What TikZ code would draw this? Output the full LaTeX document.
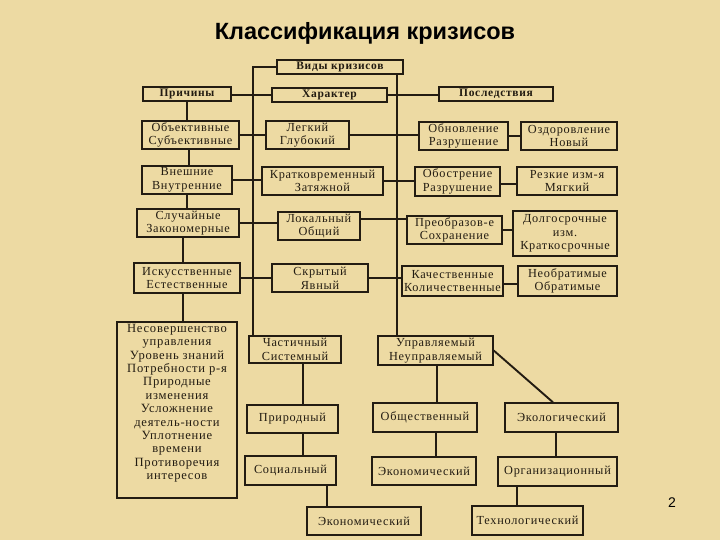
\documentclass[tikz,border=0pt]{standalone}
\usepackage{fontspec}
\setmainfont{Liberation Serif}
\newfontfamily\titlefont{Liberation Sans}
\newfontfamily\boxfont[LetterSpace=6]{Liberation Serif}
\definecolor{parch}{RGB}{237,218,163}
\definecolor{ink}{RGB}{35,28,18}
\begin{document}
\begin{tikzpicture}[x=1pt,y=-1pt,
  bx/.style={draw=ink,line width=1.4pt,inner sep=0pt,align=center,
    font=\boxfont\fontsize{12.3}{13.6}\selectfont,text=ink},
  hb/.style={bx,font=\boxfont\bfseries\fontsize{11.5}{12}\selectfont},
  cn/.style={draw=ink,line width=1.9pt},
  tk/.style={draw=ink,line width=2.8pt},
  lg/.style={draw=ink,line width=2.2pt}]
\fill[parch] (0,0) rectangle (720,540);
\useasboundingbox (0,0) rectangle (720,540);
\node[font=\titlefont\bfseries\fontsize{23.5}{25}\selectfont] (title) at (365,33) {Классификация кризисов};
% header row
\node[hb,minimum width=126pt,minimum height=14pt] (vidy) at (340,67) {Виды кризисов};
\node[hb,minimum width=88pt,minimum height=14pt] (prich) at (187,94) {Причины};
\node[hb,minimum width=115pt,minimum height=14pt] (harak) at (329.5,95) {Характер};
\node[hb,minimum width=114pt,minimum height=14pt] (posl) at (496,94) {Последствия};
% row 2
\node[bx,minimum width=97pt,minimum height=28pt] (obj) at (190.5,135) {Объективные\\Субъективные};
\node[bx,minimum width=83pt,minimum height=28pt] (legk) at (307.5,135) {Легкий\\Глубокий};
\node[bx,minimum width=89pt,minimum height=28pt] (obnov) at (463.5,136) {Обновление\\Разрушение};
\node[bx,minimum width=96pt,minimum height=28pt] (ozdor) at (569,136) {Оздоровление\\Новый};
% row 3
\node[bx,minimum width=90pt,minimum height=28pt] (vnesh) at (187,180) {Внешние\\Внутренние};
\node[bx,minimum width=121pt,minimum height=28pt] (krat) at (322.5,181) {Кратковременный\\Затяжной};
\node[bx,minimum width=85pt,minimum height=29pt] (obostr) at (457.5,181.5) {Обострение\\Разрушение};
\node[bx,minimum width=100pt,minimum height=28pt] (rezk) at (567,181) {Резкие изм-я\\Мягкий};
% row 4
\node[bx,minimum width=102pt,minimum height=28pt] (sluch) at (188,223) {Случайные\\Закономерные};
\node[bx,minimum width=82pt,minimum height=28pt] (lokal) at (319,226) {Локальный\\Общий};
\node[bx,minimum width=95pt,minimum height=28pt] (preobr) at (454.5,230) {Преобразов-е\\Сохранение};
\node[bx,minimum width=104pt,minimum height=45pt] (dolg) at (565,233.5) {Долгосрочные\\изм.\\Краткосрочные};
% row 5
\node[bx,minimum width=106pt,minimum height=30pt] (iskus) at (187,278) {Искусственные\\Естественные};
\node[bx,minimum width=96pt,minimum height=28pt] (skryt) at (320,278) {Скрытый\\Явный};
\node[bx,minimum width=101pt,minimum height=30pt] (kach) at (452.5,281) {Качественные\\Количественные};
\node[bx,minimum width=99pt,minimum height=30pt] (neobr) at (567.5,281) {Необратимые\\Обратимые};
% lower part
\node[bx,font=\boxfont\fontsize{12.6}{13.4}\selectfont,minimum width=120pt,minimum height=176pt] (big) at (177,410)
  {Несовершенство\\управления\\Уровень знаний\\Потребности р-я\\Природные\\изменения\\Усложнение\\деятель-ности\\Уплотнение\\времени\\Противоречия\\интересов\\[3pt]};
\node[bx,minimum width=92pt,minimum height=27pt] (chast) at (295,349.5) {Частичный\\Системный};
\node[bx,minimum width=115pt,minimum height=29pt] (uprav) at (435.5,350.5) {Управляемый\\Неуправляемый};
\node[bx,minimum width=91pt,minimum height=28pt] (prirod) at (292.5,419) {Природный};
\node[bx,minimum width=104pt,minimum height=29pt] (obshch) at (425,417.5) {Общественный};
\node[bx,minimum width=113pt,minimum height=29pt] (ekolog) at (561.5,417.5) {Экологический};
\node[bx,minimum width=91pt,minimum height=29pt] (social) at (290.5,470.5) {Социальный};
\node[bx,minimum width=104pt,minimum height=28pt] (ekon2) at (424,471) {Экономический};
\node[bx,minimum width=119pt,minimum height=29pt] (organ) at (557.5,471.5) {Организационный};
\node[bx,minimum width=114pt,minimum height=28pt] (ekon3) at (364,521) {Экономический};
\node[bx,minimum width=111pt,minimum height=29pt] (tehn) at (527.5,520.5) {Технологический};
\node[font=\titlefont\fontsize{14}{16}\selectfont] (pnum) at (672,503) {2};
% long verticals
\coordinate (L1) at (253,67);
\draw[lg] (vidy.west) -- (L1) -- (L1 |- chast.north);
\draw[lg] ([xshift=57pt]vidy.south) -- ([xshift=57pt]vidy.south |- uprav.north);
% header connectors
\draw[cn] (prich.east) -- (harak.west -| prich.east) -- (harak.west);
\draw[cn] (harak.east) -- (posl.west |- harak.east);
% left column chain
\draw[cn] (prich.south) -- (prich.south |- obj.north);
\draw[cn] ([xshift=-1.5pt]obj.south) -- ([xshift=-1.5pt]obj.south |- vnesh.north);
\draw[cn] (vnesh.south) -- (vnesh.south |- sluch.north);
\draw[cn] ([xshift=-5pt]sluch.south) -- ([xshift=-5pt]sluch.south |- iskus.north);
\draw[cn] ([xshift=-4pt]iskus.south) -- ([xshift=-4pt]iskus.south |- big.north);
% rows
\draw[cn] (obj.east) -- (legk.west);
\draw[cn] (legk.east) -- (obnov.west |- legk.east);
\draw[cn] (obnov.east) -- (ozdor.west);
\draw[cn] (vnesh.east) -- (krat.west |- vnesh.east);
\draw[cn] (krat.east) -- (obostr.west |- krat.east);
\draw[tk] ([yshift=-2.5pt]obostr.east) -- ([yshift=-2.5pt]obostr.east -| rezk.west);
\draw[tk] (sluch.east) -- (lokal.west |- sluch.east);
\draw[cn] ([yshift=7pt]lokal.east) -- ([yshift=7pt]lokal.east -| preobr.west);
\draw[tk] (preobr.east) -- (preobr.east -| dolg.west);
\draw[cn] (iskus.east) -- (skryt.west |- iskus.east);
\draw[cn] (skryt.east) -- (kach.west |- skryt.east);
\draw[cn] ([yshift=-3pt]kach.east) -- ([yshift=-3pt]kach.east -| neobr.west);
% lower connectors
\draw[cn] ([xshift=8pt]chast.south) -- ([xshift=8pt]chast.south |- prirod.north);
\draw[cn] ([xshift=10.5pt]prirod.south) -- ([xshift=10.5pt]prirod.south |- social.north);
\draw[cn] ([xshift=36.5pt]social.south) -- ([xshift=36.5pt]social.south |- ekon3.north);
\draw[cn] ([xshift=1.5pt]uprav.south) -- ([xshift=1.5pt]uprav.south |- obshch.north);
\draw[cn] ([xshift=11pt]obshch.south) -- ([xshift=11pt]obshch.south |- ekon2.north);
\draw[cn] (uprav.east) -- ([xshift=-8.5pt]ekolog.north);
\draw[cn] ([xshift=-5.5pt]ekolog.south) -- ([xshift=-5.5pt]ekolog.south |- organ.north);
\draw[cn] ([xshift=-40.5pt]organ.south) -- ([xshift=-40.5pt]organ.south |- tehn.north);
\end{tikzpicture}
\end{document}
